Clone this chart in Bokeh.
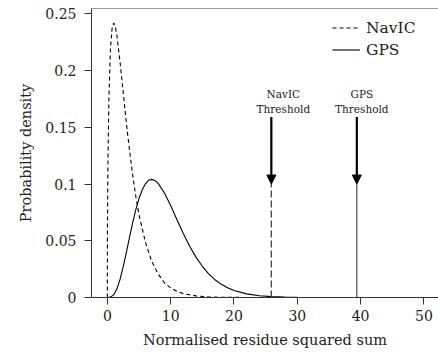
from bokeh.plotting import figure
from bokeh.models import (Range1d, Span, Arrow, NormalHead, Label, Legend, LegendItem,
                          FixedTicker)
from bokeh.embed import file_html
from bokeh.resources import INLINE

# ---- data ----
navic_x = [0, 0.02, 0.05, 0.1, 0.25, 0.5, 0.75, 1.0, 1.25, 1.5, 2.0, 2.5, 3.0, 3.5, 4.0,
           4.5, 5.0, 6.0, 7.0, 8.0, 9.0, 10.0, 11.0, 12.0, 14.0, 16.0, 18.0, 20.0, 22.0, 27.0]
navic_y = [0, 0.056, 0.087, 0.120, 0.176, 0.220, 0.237, 0.242, 0.239, 0.231, 0.208, 0.181,
           0.154, 0.130, 0.108, 0.089, 0.073, 0.049, 0.032, 0.021, 0.013, 0.0085, 0.0054,
           0.0034, 0.0014, 0.0005, 0.0002, 0.0001, 0.00003, 0.0]

gps_x = [0, 0.5, 1.0, 1.5, 2.0, 2.5, 3.0, 3.5, 4.0, 4.5, 5.0, 5.5, 6.0, 6.5, 7.0, 7.5, 8.0,
         9.0, 10.0, 11.0, 12.0, 13.0, 14.0, 15.0, 16.0, 17.0, 18.0, 19.0, 20.0, 22.0, 24.0,
         26.0, 28.0, 30.0, 35.0, 40.0, 52.0]
gps_y = [0, 0.0003, 0.0023, 0.0074, 0.0158, 0.0269, 0.0396, 0.0530, 0.0658, 0.0774, 0.0872,
         0.0947, 0.1001, 0.1033, 0.1041, 0.1032, 0.1008, 0.0923, 0.0810, 0.0685, 0.0564,
         0.0452, 0.0356, 0.0275, 0.0209, 0.0157, 0.0116, 0.0085, 0.0062, 0.0032, 0.0016,
         0.0008, 0.0004, 0.0002, 0.00003, 0.0, 0.0]

series_names = ["NavIC", "GPS"]
thresholds = [25.9, 39.4]
threshold_height = 0.1
x_ticks = [0, 10, 20, 30, 40, 50]
y_ticks = [0, 0.05, 0.1, 0.15, 0.2, 0.25]
y_tick_labels = {0: "0", 0.05: "0.05", 0.1: "0.1", 0.15: "0.15", 0.2: "0.2", 0.25: "0.25"}

FONT = "DejaVu Serif"
AX = "#333333"

p = figure(width=438, height=356, output_backend="svg", toolbar_location=None,
           x_range=Range1d(-2.5, 52.3), y_range=Range1d(0, 0.2547),
           min_border_left=91, min_border_right=0, min_border_top=8, min_border_bottom=59)
p.outline_line_color = None
p.grid.visible = False
p.background_fill_color = "white"
p.border_fill_color = "white"

# top frame line
p.add_layout(Span(location=0.2547, dimension="width", line_color=AX, line_width=1))

for ax in (p.xaxis[0], p.yaxis[0]):
    ax.axis_line_color = AX
    ax.major_tick_line_color = AX
    ax.minor_tick_line_color = None
    ax.major_tick_in = 0
    ax.major_tick_out = 7
    ax.major_label_text_font = FONT
    ax.major_label_text_font_size = "14px"
    ax.major_label_text_color = "#222222"
    ax.axis_label_text_font = FONT
    ax.axis_label_text_font_size = "14.5px"
    ax.axis_label_text_font_style = "normal"
    ax.axis_label_text_color = "#222222"

p.xaxis.ticker = FixedTicker(ticks=x_ticks)
p.yaxis.ticker = FixedTicker(ticks=y_ticks)
p.yaxis.major_label_overrides = y_tick_labels
p.xaxis.axis_label = "Normalised residue squared sum"
p.yaxis.axis_label = "Probability density"
p.xaxis.major_label_standoff = 5
p.yaxis.major_label_standoff = 8
p.xaxis.axis_label_standoff = 8
p.yaxis.axis_label_standoff = 8

r_navic = p.line(navic_x, navic_y, line_color="black", line_width=1.1, line_dash="4 3")
r_gps = p.line(gps_x, gps_y, line_color="black", line_width=1.1)

# threshold lines
p.segment(x0=[thresholds[0]], y0=[0], x1=[thresholds[0]], y1=[threshold_height],
          line_color="#444444", line_width=1.3, line_dash="7 3")
p.segment(x0=[thresholds[1]], y0=[0], x1=[thresholds[1]], y1=[threshold_height],
          line_color="#555555", line_width=1.3)

label_offsets = [12, 5]
for name, t, off in zip(series_names, thresholds, label_offsets):
    p.add_layout(Arrow(end=NormalHead(size=9, fill_color="black", line_color="black"),
                       x_start=t, y_start=0.159, x_end=t, y_end=threshold_height,
                       line_color="black", line_width=2.2))
    p.add_layout(Label(x=t, y=0.159, x_offset=off, y_offset=2, text="Threshold",
                       text_font=FONT, text_font_size="10.5px", text_align="center",
                       text_baseline="bottom", text_color="#222222"))
    p.add_layout(Label(x=t, y=0.159, x_offset=off, y_offset=17, text=name,
                       text_font=FONT, text_font_size="10.5px", text_align="center",
                       text_baseline="bottom", text_color="#222222"))

legend = Legend(items=[LegendItem(label="NavIC", renderers=[r_navic]),
                       LegendItem(label="GPS", renderers=[r_gps])],
                location=(241, 237), orientation="vertical")
legend.border_line_color = None
legend.background_fill_alpha = 0
legend.label_text_font = FONT
legend.label_text_font_size = "15.5px"
legend.label_text_color = "#222222"
legend.glyph_width = 28
legend.glyph_height = 21
legend.label_height = 21
legend.label_standoff = 6
legend.spacing = 1
legend.padding = 4
legend.margin = 0
p.add_layout(legend)

open("out.html", "w").write(file_html(p, INLINE))
